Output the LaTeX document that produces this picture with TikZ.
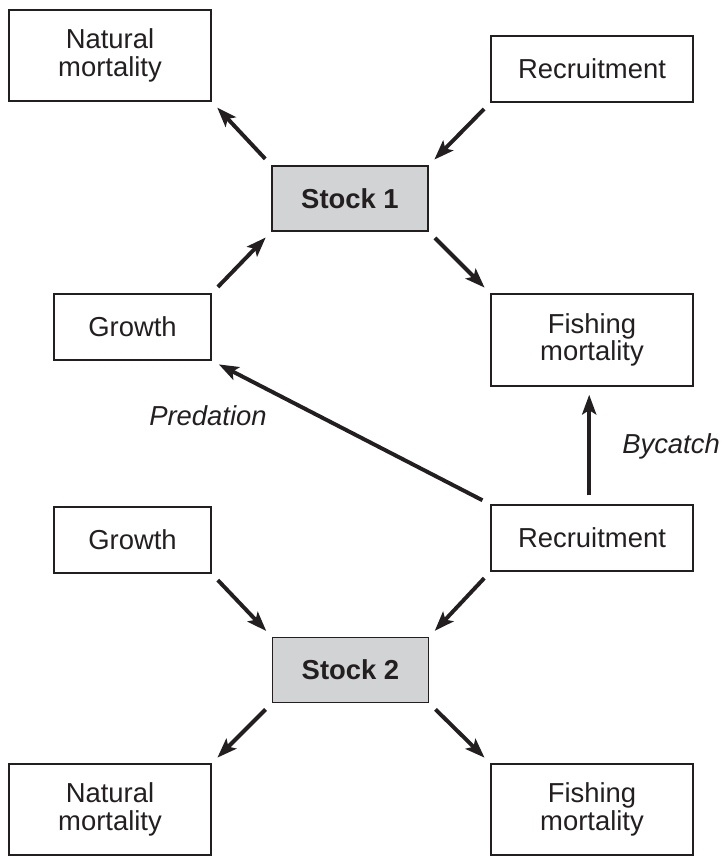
\documentclass[tikz,border=0pt]{standalone}
\usepackage{fontspec}
\setmainfont{Liberation Sans}
\usetikzlibrary{arrows.meta}
\definecolor{ink}{RGB}{35,31,32}
\definecolor{stockfill}{RGB}{209,211,212}
\tikzset{
  box/.style={rectangle, draw=ink, line width=1pt, fill=white, text=ink,
              align=center, inner sep=0pt, minimum width=5.05cm,
              font=\fontsize{19.5}{19.5}\selectfont},
  stock/.style={box, fill=stockfill, minimum width=3.9cm, minimum height=1.625cm,
                font=\fontsize{19.5}{19.5}\selectfont\bfseries},
  arrow/.style={-{Stealth[length=14pt, width=10pt, inset=3pt]}, line width=2.8pt,
                draw=ink, shorten <=0.22cm, shorten >=0.2cm},
  flowtext/.style={text=ink, inner sep=0pt, font=\fontsize{19.5}{19.5}\selectfont\itshape},
}

\begin{document}
\begin{tikzpicture}[x=0.025cm, y=-0.025cm]
    \useasboundingbox (0,0) rectangle (723,856);

    % stock 1 and its flows
    \node[stock] (stock1) at (350,198.5) {Stock 1};
    \node[box, minimum height=2.275cm] (natmort1) at (110,55.5) {Natural\\mortality};
    \node[box, minimum height=1.65cm] (recruit1) at (592,69) {Recruitment};
    \node[box, minimum width=3.925cm, minimum height=1.65cm] (growth1) at (132.5,327) {Growth};
    \node[box, minimum height=2.3cm] (fishmort1) at (592,340) {Fishing\\mortality};

    % stock 2 and its flows
    \node[stock] (stock2) at (350.5,670) {Stock 2};
    \node[box, minimum height=1.65cm] (recruit2) at (592,538) {Recruitment};
    \node[box, minimum width=3.925cm, minimum height=1.65cm] (growth2) at (132.5,540) {Growth};
    \node[box, minimum height=2.275cm] (natmort2) at (110,809.5) {Natural\\mortality};
    \node[box, minimum height=2.275cm] (fishmort2) at (592,809.5) {Fishing\\mortality};

    % interaction labels
    \node[flowtext] (predation) at (208,416) {Predation};
    \node[flowtext, anchor=west] (bycatch) at (622,446) {Bycatch};

    \draw[arrow] (stock1.north west) -- (natmort1.south east);
    \draw[arrow] (recruit1.south west) -- (stock1.north east);
    \draw[arrow] (growth1.north east) -- (stock1.south west);
    \draw[arrow] (stock1.south east) -- (fishmort1.north west);

    \draw[arrow] (recruit2.north west) -- (growth1.south east);
    \draw[arrow] ([xshift=-2]recruit2.north) -- ([xshift=-2]fishmort1.south);

    \draw[arrow] (growth2.south east) -- (stock2.north west);
    \draw[arrow] (recruit2.south west) -- (stock2.north east);
    \draw[arrow] (stock2.south west) -- (natmort2.north east);
    \draw[arrow] (stock2.south east) -- (fishmort2.north west);
\end{tikzpicture}
\end{document}
